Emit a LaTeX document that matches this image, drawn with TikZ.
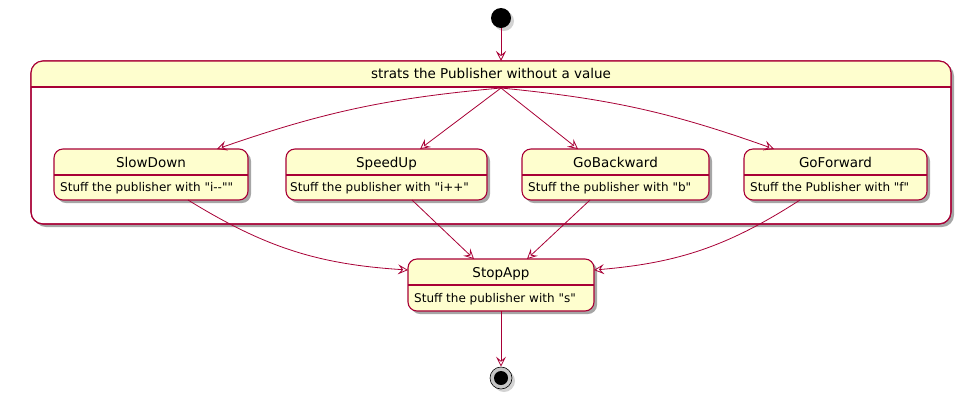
\documentclass[tikz,border=0pt]{standalone}
\usepackage{fontspec}
\setmainfont{DejaVu Sans}[Ligatures=TeXOff]
\usetikzlibrary{positioning,shadows,arrows.meta}
\definecolor{umlred}{HTML}{A80036}
\definecolor{umlfill}{HTML}{FEFECE}
\tikzset
{
    statebox/.style  = {draw=umlred, fill=umlfill, line width=1.1pt, rounded corners=9pt, outer sep=0pt,
                        drop shadow={shadow xshift=3pt, shadow yshift=-3pt, opacity=0.35, fill=black}},
    titletext/.style = {font=\fontsize{13.5}{15}\selectfont, inner sep=0pt, anchor=base},
    bodytext/.style  = {font=\fontsize{12}{14}\selectfont, inner sep=0pt, anchor=base west},
    trans/.style     = {draw=umlred, line width=0.8pt, -{Stealth[open, length=10pt, width=10pt, inset=4pt]}},
    sepline/.style   = {draw=umlred, line width=1.1pt}
}

\begin{document}
\begin{tikzpicture}[x=1pt, y=-1pt]
    \useasboundingbox (0,0) rectangle (963,400);

    % start point
    \node [circle, fill=black, minimum size=20pt, inner sep=0pt,
           drop shadow={shadow xshift=3pt, shadow yshift=-3pt, opacity=0.35}] (start) at (501,18) {};

    % composite state
    \node [statebox, fill=white, rounded corners=12pt, minimum width=920pt, minimum height=163pt] (comp) at (491,142.5) {};
    \fill [umlfill] (comp.west |- 0,87) [rounded corners=12pt] -- (comp.north west) -- (comp.north east)
        [sharp corners] -- (comp.east |- 0,87) -- cycle;
    \draw [sepline, rounded corners=12pt] (comp.north west) rectangle (comp.south east);
    \node [titletext] (comptitle) at (491,78) {strats the Publisher without a value};
    \draw [sepline] (comp.west |- 0,87) -- (comp.east |- 0,87);
    \coordinate (fork) at (501,88);

    % inner states
    \node [statebox, minimum width=194pt, minimum height=51pt] (slow) at (151,174.5) {};
    \node [titletext] (slowtitle) at (151,167) {SlowDown};
    \draw [sepline] (slow.west |- 0,175) -- (slow.east |- 0,175);
    \node [bodytext] (slowbody) at (60,191) {Stuff the publisher with "i--""};

    \node [statebox, minimum width=201pt, minimum height=51pt] (speed) at (386.5,174.5) {};
    \node [titletext] (speedtitle) at (386.5,167) {SpeedUp};
    \draw [sepline] (speed.west |- 0,175) -- (speed.east |- 0,175);
    \node [bodytext] (speedbody) at (290,191) {Stuff the publisher with "i++"};

    \node [statebox, minimum width=187pt, minimum height=51pt] (back) at (615.5,174.5) {};
    \node [titletext] (backtitle) at (615.5,167) {GoBackward};
    \draw [sepline] (back.west |- 0,175) -- (back.east |- 0,175);
    \node [bodytext] (backbody) at (528,191) {Stuff the publisher with "b"};

    \node [statebox, minimum width=183pt, minimum height=51pt] (fwd) at (835.5,174.5) {};
    \node [titletext] (fwdtitle) at (835.5,167) {GoForward};
    \draw [sepline] (fwd.west |- 0,175) -- (fwd.east |- 0,175);
    \node [bodytext] (fwdbody) at (750,191) {Stuff the Publisher with "f"};

    % final state
    \node [statebox, minimum width=186pt, minimum height=52pt] (stop) at (501,285) {};
    \node [titletext] (stoptitle) at (501,277) {StopApp};
    \draw [sepline] (stop.west |- 0,285) -- (stop.east |- 0,285);
    \node [bodytext] (stopbody) at (414,302) {Stuff the publisher with "s"};

    % end point
    \node [circle, draw=black, fill=gray!45, line width=0.6pt, minimum size=22pt, inner sep=0pt,
           drop shadow={shadow xshift=3pt, shadow yshift=-3pt, opacity=0.35}] (finish) at (501,378) {};
    \node [circle, fill=black, minimum size=14pt, inner sep=0pt] (finishdot) at (finish) {};

    % transitions
    \draw [trans] (start) -- (comp.north -| start);
    \draw [trans] (fork) to[bend right=7] (217,0 |- slow.north);
    \draw [trans] (fork) -- (420,0 |- speed.north);
    \draw [trans] (fork) -- (578,0 |- back.north);
    \draw [trans] (fork) to[bend left=7] (774,0 |- fwd.north);
    \draw [trans] (188,0 |- slow.south) to[bend right=14] (stop.west |- 0,270);
    \draw [trans] (412,0 |- speed.south) -- (474,0 |- stop.north);
    \draw [trans] (590,0 |- back.south) -- (527,0 |- stop.north);
    \draw [trans] (800,0 |- fwd.south) to[bend left=14] (stop.east |- 0,270);
    \draw [trans] (stop) -- (finish);
\end{tikzpicture}
\end{document}
